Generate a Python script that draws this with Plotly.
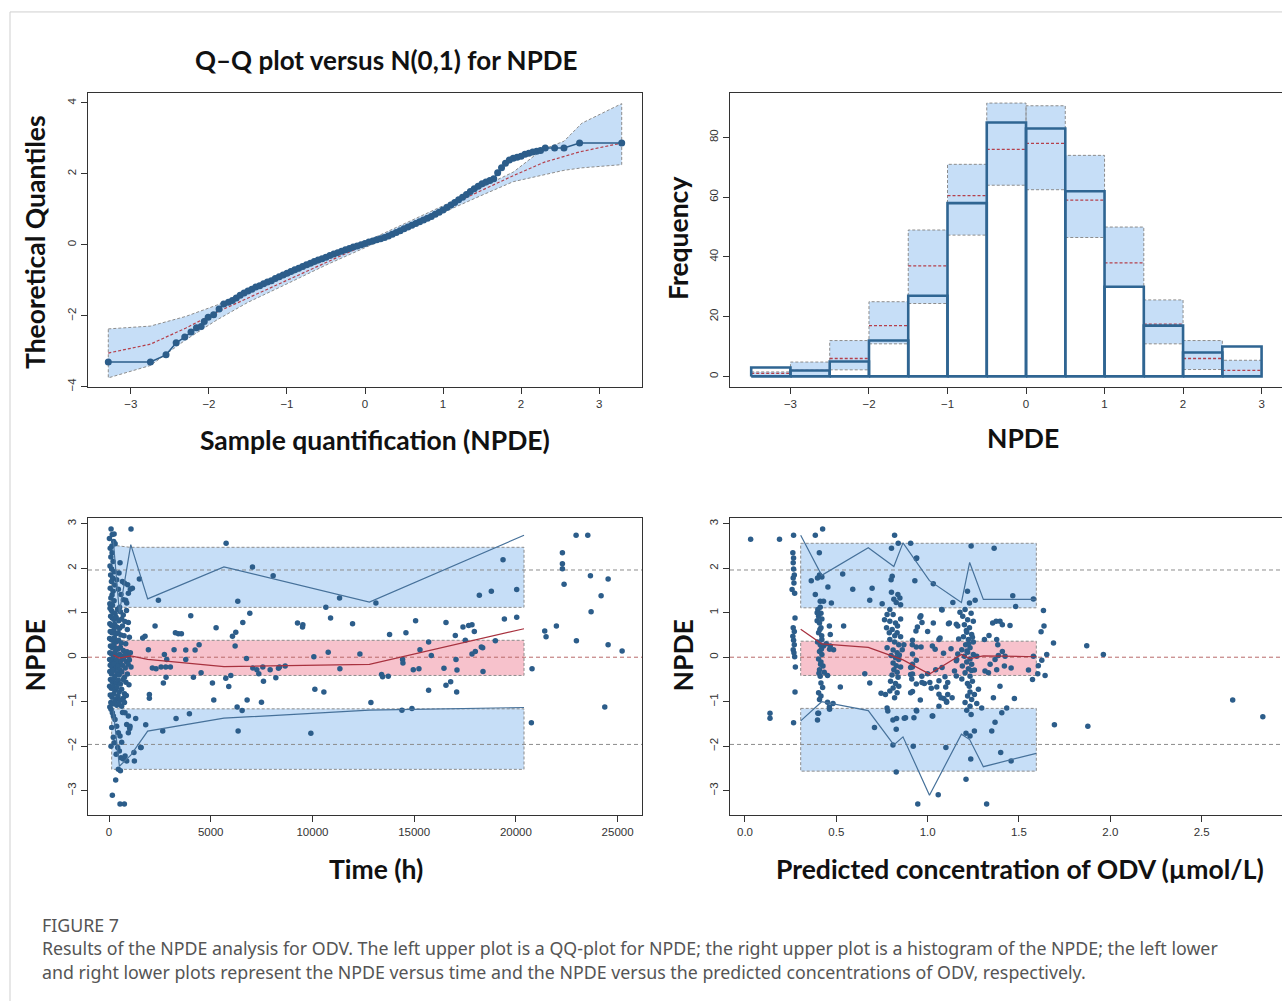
import plotly.graph_objects as go

W, H = 1282, 1005

# ====================== DATA ======================
# --- Q-Q plot ---
qq_theoretical = [-3.29, -2.75, -2.55, -2.42, -2.31, -2.23, -2.16, -2.10, -2.06, -2.01, -1.94, -1.87, -1.81, -1.75,
                  -1.7, -1.65, -1.6, -1.55, -1.5, -1.45, -1.4, -1.35, -1.3, -1.25, -1.2, -1.15, -1.1, -1.05, -1.0,
                  -0.95, -0.9, -0.85, -0.8, -0.75, -0.7, -0.65, -0.6, -0.55, -0.5, -0.45, -0.4, -0.35, -0.3, -0.25,
                  -0.2, -0.15, -0.1, -0.05, 0.0, 0.05, 0.1, 0.15, 0.2, 0.25, 0.3, 0.35, 0.4, 0.45, 0.5, 0.55, 0.6,
                  0.65, 0.7, 0.75, 0.8, 0.85, 0.9, 0.95, 1.0, 1.05, 1.1, 1.15, 1.2, 1.25, 1.3, 1.35, 1.4, 1.45, 1.5,
                  1.55, 1.6,
                  1.65, 1.7, 1.75, 1.8, 1.85, 1.9, 1.95, 2.0, 2.05, 2.1, 2.15, 2.2, 2.25, 2.31, 2.43, 2.55, 2.75, 3.29]
qq_sample = [-3.30, -3.30, -3.10, -2.76, -2.60, -2.46, -2.34, -2.30, -2.16, -2.04, -1.97, -1.81, -1.67, -1.62,
             -1.57, -1.50, -1.42, -1.36, -1.30, -1.25, -1.19, -1.15, -1.10, -1.05, -1.01, -0.95, -0.90, -0.85, -0.80,
             -0.75, -0.70, -0.66, -0.61, -0.56, -0.52, -0.47, -0.43, -0.39, -0.35, -0.30, -0.26, -0.22, -0.18, -0.14,
             -0.10, -0.06, -0.03, 0.00, 0.04, 0.08, 0.11, 0.14, 0.17, 0.21, 0.25, 0.30, 0.35, 0.40, 0.45, 0.50, 0.55,
             0.60, 0.65, 0.70, 0.75, 0.80, 0.86, 0.92, 0.98, 1.05, 1.12, 1.19, 1.27, 1.34, 1.42, 1.50, 1.58, 1.65, 1.72,
             1.77, 1.81,
             1.86, 2.03, 2.17, 2.30, 2.39, 2.44, 2.47, 2.50, 2.55, 2.58, 2.62, 2.64, 2.66, 2.73, 2.73, 2.73, 2.87, 2.87]
qq_band_x = [-3.29, -2.75, -2.3, -1.9, -1.5, -1.0, -0.5, 0.0, 0.5, 1.0, 1.5, 1.9, 2.27, 2.55, 2.78, 3.29]
qq_band_upper = [-2.37, -2.29, -2.02, -1.70, -1.35, -0.88, -0.42, 0.08, 0.58, 1.10, 1.63, 2.05, 2.68, 2.92, 3.43, 3.98]
qq_band_lower = [-3.75, -3.40, -2.68, -2.12, -1.62, -1.10, -0.57, -0.08, 0.42, 0.92, 1.40, 1.78, 1.96, 2.10, 2.17, 2.26]
qq_median_x = [-3.29, -2.75, -2.3, -1.9, 0.0, 1.9, 2.3, 2.75, 3.29]
qq_median_y = [-3.05, -2.80, -2.35, -1.90, 0.0, 1.95, 2.33, 2.62, 2.87]

# --- Histogram ---
hist_edges = [-3.5, -3.0, -2.5, -2.0, -1.5, -1.0, -0.5, 0.0, 0.5, 1.0, 1.5, 2.0, 2.5, 3.0]
hist_counts = [3, 2, 5, 12, 27, 58, 85, 83, 62, 30, 17, 8, 10]
hist_pi_lower = [0, 0, 2.2, 10.9, 24.4, 47.3, 64.0, 62.5, 46.5, 30.0, 10.9, 2.3, 0]
hist_pi_median = [1.0, 2.0, 6.0, 17.0, 37.0, 60.5, 76.0, 78.0, 59.0, 38.0, 17.5, 6.0, 2.0]
hist_pi_upper = [1.5, 4.8, 12.0, 25.0, 49.0, 71.0, 91.5, 90.6, 74.0, 50.0, 25.6, 12.0, 5.4]

# --- NPDE vs time ---
time_npde_points = [
    # dense column (early samples)
    (100, 2.88), (160, 2.76), (20, 2.67), (230, 2.60), (140, 2.50), (300, 2.55), (250, 2.77),
    (60, 2.45), (150, 2.35), (90, 2.25), (200, 2.15), (50, 2.05), (130, 1.98), (250, 1.92), (80, 1.85),
    (180, 1.78), (120, 1.70), (280, 1.62), (60, 1.55), (200, 1.48), (150, 1.40), (90, 1.33), (250, 1.27),
    (40, 1.20), (170, 1.17), (656, 1.70), (754, 1.67), (918, 1.63), (951, 1.44), (820, 1.28), (590, 1.41),
    (459, 1.53), (377, 1.74), (541, 2.12), (492, 1.89), (705, 1.29), (869, 1.22), (525, 1.12), (1050, 1.53),
    (50, 1.10), (120, 1.05), (200, 1.00), (300, 0.98), (420, 1.08), (560, 1.02), (700, 0.95), (860, 1.05),
    (80, 0.92), (160, 0.88), (250, 0.85), (350, 0.90), (480, 0.82), (620, 0.86), (780, 0.80), (950, 0.78),
    (40, 0.75), (110, 0.72), (190, 0.70), (280, 0.74), (380, 0.68), (520, 0.65), (660, 0.70), (900, 0.62),
    (60, 0.58), (140, 0.55), (230, 0.60), (330, 0.52), (450, 0.55), (580, 0.50), (740, 0.48), (1000, 0.45),
    (30, 0.42), (100, 0.40), (180, 0.38), (260, 0.44), (360, 0.35), (470, 0.38), (600, 0.32), (820, 0.30),
    (70, 0.25), (150, 0.22), (240, 0.28), (340, 0.20), (430, 0.18), (560, 0.22), (700, 0.15), (880, 0.12),
    (1050, 0.10), (40, 0.10), (120, 0.08), (210, 0.05), (300, 0.12), (400, 0.04), (520, 0.06), (650, 0.02),
    (780, 0.05), (950, 0.03),
    (30, -0.05), (110, -0.08), (190, -0.03), (280, -0.10), (370, -0.06), (460, -0.12), (580, -0.08), (720, -0.04),
    (860, -0.10), (1000, -0.06), (60, -0.18), (150, -0.22), (240, -0.15), (330, -0.25), (430, -0.20), (540, -0.28),
    (660, -0.18), (800, -0.24), (940, -0.16), (1080, -0.22), (40, -0.32), (120, -0.38), (210, -0.30), (300, -0.42),
    (400, -0.35), (500, -0.40), (630, -0.33), (760, -0.45), (900, -0.38), (70, -0.50), (160, -0.55), (250, -0.48),
    (350, -0.58), (450, -0.52), (560, -0.60), (690, -0.50), (830, -0.56), (980, -0.62), (30, -0.65), (110, -0.70),
    (200, -0.66), (290, -0.74), (390, -0.68), (500, -0.78), (620, -0.72), (760, -0.82), (60, -0.85), (150, -0.90),
    (240, -0.82), (340, -0.95), (440, -0.88), (560, -0.96), (700, -0.92), (850, -0.86), (90, -1.02), (180, -1.05),
    (280, -1.00), (380, -1.08), (490, -1.04), (620, -1.10), (760, -1.02), (40, -1.12),
    (98, -1.17), (164, -1.25), (213, -1.32), (295, -1.40), (131, -1.58), (377, -1.55), (459, -1.70), (541, -1.77),
    (623, -1.91), (426, -2.03), (508, -2.11), (590, -2.26), (869, -2.33), (705, -2.29), (459, -2.52), (560, -2.55),
    (328, -2.76), (164, -3.10), (541, -3.30), (754, -3.30), (787, -1.25), (951, -1.32), (869, -1.51), (1033, -1.55),
    (262, -1.92), (98, -2.00), (951, -1.70), (210, -1.80), (350, -2.18), (790, -2.22), (665, -1.24), (1016, -1.60),
    # sparse points
    (1082, 2.88), (1492, 1.76), (1148, 1.55), (2427, 1.28), (4018, 0.93), (2263, 0.70), (3263, 0.55), (3411, 0.53),
    (3559, 0.53), (1771, 0.47), (1656, 0.43), (3198, 0.17), (3772, 0.16), (4231, 0.16), (4428, 0.28), (1935, 0.17),
    (2722, 0.06), (2837, -0.05), (2132, -0.24), (2312, -0.26), (2558, -0.22), (2788, -0.22), (3017, -0.22),
    (3772, -0.05), (2673, -0.58), (2804, -0.45), (4149, -0.45), (4526, -0.35), (1984, -0.84), (1984, -0.92),
    (5084, -0.58), (5150, -0.96), (3296, -1.38), (3952, -1.27), (2640, -1.66), (1558, -2.03), (1804, -1.52),
    (1312, -1.38), (1246, -2.33), (1226, -2.14), (1576, -2.03),
    (5756, 2.56), (7052, 2.03), (8069, 1.83), (11332, 1.33), (13120, 1.22), (6330, 1.26), (6921, 0.99), (6576, 0.78),
    (5264, 0.66), (6232, 0.56), (6068, 0.47), (6199, 0.25), (9266, 0.77), (9528, 0.73), (9512, 0.68), (10660, 1.12),
    (10890, 0.88), (11972, 0.75), (13792, 0.51), (14596, 0.55), (15071, 0.82), (15711, 0.34), (15285, 0.17),
    (6757, -0.03), (10069, 0.01), (10775, 0.11), (12333, 0.07), (14432, -0.05), (14448, -0.13), (7068, -0.24),
    (7265, -0.28), (7363, -0.37), (7560, -0.22), (7921, -0.28), (8331, -0.25), (8380, -0.22), (8659, -0.20),
    (7593, -0.54), (8200, -0.46), (5740, -0.47), (5986, -0.41), (5887, -0.66), (11349, -0.26), (13398, -0.39),
    (13448, -0.44), (13727, -0.43), (14957, -0.28), (15235, -0.26), (10119, -0.72), (10562, -0.78), (6789, -0.96),
    (7494, -1.01), (6297, -1.12), (6543, -1.20), (12874, -1.02), (14399, -1.19), (14891, -1.15), (6347, -1.66),
    (9922, -1.71), (15711, -0.74),
    (19368, 2.19), (18204, 1.39), (18794, 1.48), (20041, 1.52), (16564, 0.78), (19434, 0.86), (20041, 0.90),
    (17023, 0.49), (17400, 0.68), (17679, 0.71), (17843, 0.73), (17958, 0.58), (17515, 0.38), (18991, 0.37),
    (15842, 0.04), (17843, 0.07), (18007, 0.13), (18302, 0.23), (18368, 0.21), (17056, -0.05), (17105, -0.29),
    (16465, -0.25), (18384, -0.32), (16564, -0.63), (16794, -0.55), (17089, -0.78), (20762, -1.47), (20795, -0.26),
    (22960, 2.74), (23534, 2.74), (22287, 2.35), (22287, 2.10), (22287, 1.99), (22369, 1.64), (23665, 1.83),
    (24534, 1.76), (24190, 1.38), (23698, 1.02), (21418, 0.59), (21484, 0.46), (21992, 0.70), (22976, 0.37),
    (24534, 0.28), (25223, 0.14), (24370, -1.12),
]
time_bin_x = [210, 510, 1070, 1900, 5650, 12800, 20400]
time_obs_upper = [2.62, 1.00, 2.53, 1.31, 2.03, 1.24, 2.74]
time_obs_median = [0.05, -0.02, 0.03, -0.05, -0.21, -0.16, 0.64]
time_obs_lower = [-1.20, -2.45, -2.20, -1.66, -1.37, -1.19, -1.13]
time_band_x = [130, 1030, 20400]
time_pi_hi_top = [2.52, 2.47, 2.47]
time_pi_hi_bot = [1.12, 1.12, 1.12]
time_pi_mid_top = [0.38, 0.38, 0.38]
time_pi_mid_bot = [-0.41, -0.41, -0.41]
time_pi_lo_top = [-1.16, -1.16, -1.16]
time_pi_lo_bot = [-2.52, -2.52, -2.52]
time_ticks = [0, 5000, 10000, 15000, 20000, 25000]
time_tick_labels = ["0", "5000", "10000", "15000", "20000", "25000"]

# --- NPDE vs predicted concentration ---
conc_npde_points = [
    (0.031, 2.65), (0.189, 2.65), (0.137, -1.26), (0.137, -1.37),
    # column ~0.27
    (0.266, 2.74), (0.262, 2.35), (0.266, 2.23), (0.264, 2.12), (0.266, 1.98), (0.270, 1.85), (0.264, 1.78),
    (0.268, 1.67), (0.258, 1.52), (0.272, 1.44), (0.274, 0.88), (0.264, 0.66), (0.270, 0.58), (0.262, 0.47),
    (0.266, 0.38), (0.270, 0.28), (0.264, 0.17), (0.268, 0.10), (0.272, 0.01), (0.276, -0.22), (0.274, -0.78),
    (0.266, -1.47),
    # column ~0.42
    (0.425, 2.88), (0.385, 2.74), (0.407, 2.35), (0.397, 1.78), (0.408, 1.85), (0.421, 1.80), (0.363, 1.72),
    (0.454, 1.58), (0.385, 1.41), (0.412, 1.26), (0.430, 1.26), (0.473, 1.22), (0.399, 1.07), (0.416, 0.99),
    (0.403, 0.92), (0.421, 0.86), (0.395, 0.82), (0.408, 0.77), (0.416, 0.66), (0.403, 0.55), (0.462, 0.70),
    (0.467, 0.51), (0.421, 0.40), (0.397, 0.34), (0.412, 0.28), (0.430, 0.25), (0.467, 0.25), (0.485, 0.17),
    (0.408, 0.13), (0.421, 0.06), (0.403, -0.04), (0.416, -0.11), (0.427, -0.20), (0.408, -0.28), (0.434, -0.34),
    (0.452, -0.41), (0.412, -0.43), (0.416, -0.58), (0.403, -0.80), (0.416, -0.87), (0.408, -0.95), (0.452, -1.01),
    (0.463, -1.17), (0.482, -1.04), (0.403, -1.26), (0.397, -1.41), (0.462, -1.12), (0.399, -1.26), (0.412, 1.12),
    (0.420, 0.48), (0.414, -0.16), (0.405, -0.36), (0.418, 0.18), (0.410, 0.62), (0.425, -0.68), (0.395, 1.00),
    (0.463, 0.18), (0.445, 0.30),
    (0.535, 1.87), (0.590, 1.53), (0.696, 1.55), (0.683, 1.28), (0.540, 0.70), (0.522, -0.67), (0.656, -0.37),
    (0.683, -0.58), (0.709, -1.58),
    # column ~0.8
    (0.819, 2.74), (0.839, 2.56), (0.907, 2.56), (0.802, 2.45), (0.806, 1.82), (0.800, 1.74), (0.802, 1.46),
    (0.837, 1.41), (0.848, 1.33), (0.828, 1.23), (0.852, 1.18), (0.751, 1.20), (0.793, 1.07), (0.778, 0.96),
    (0.811, 0.96), (0.764, 0.84), (0.793, 0.81), (0.824, 0.77), (0.852, 0.86), (0.775, 0.66), (0.806, 0.62),
    (0.833, 0.55), (0.852, 0.46), (0.793, 0.40), (0.819, 0.34), (0.842, 0.28), (0.870, 0.28), (0.778, 0.21),
    (0.811, 0.16), (0.833, 0.10), (0.861, 0.17), (0.916, 0.28), (0.800, 0.04), (0.824, -0.01), (0.842, -0.05),
    (0.811, -0.13), (0.828, -0.19), (0.852, -0.22), (0.815, -0.28), (0.833, -0.34), (0.916, -0.22), (0.907, -0.39),
    (0.797, -0.54), (0.824, -0.59), (0.842, -0.65), (0.811, -0.69), (0.793, -0.76), (0.833, -0.80), (0.769, -0.84),
    (0.819, -0.91), (0.907, -0.80), (0.745, -0.81), (0.778, -1.14), (0.782, -1.21), (0.830, -1.38), (0.879, -1.36),
    (0.925, -1.36), (0.810, -1.41), (0.810, -1.97), (0.921, -2.00), (0.828, -2.58), (0.828, -1.62), (0.930, 1.72),
    (0.820, 0.48), (0.805, -0.40), (0.838, -0.45), (0.790, 0.55), (0.845, 0.05), (0.815, 1.30), (0.835, 0.70),
    # 0.9 - 1.17
    (0.938, 2.22), (0.963, 0.93), (0.969, 0.78), (0.944, 0.68), (0.936, 0.59), (0.917, 0.38), (0.938, 0.23),
    (0.917, 0.07), (0.938, -0.07), (0.917, -0.16), (0.907, -0.23), (0.917, -0.38), (0.913, -0.49), (0.938, -0.60),
    (0.917, -0.77), (0.960, -0.96), (0.969, -0.57), (0.938, -1.19), (0.872, -1.37), (0.946, -3.30), (1.058, -3.09),
    (1.025, -1.32), (1.100, -2.03), (1.012, -0.57), (1.020, -0.70), (1.062, -1.10), (1.031, 1.65), (1.079, 1.06),
    (1.031, 0.77), (1.114, 0.75), (1.062, 0.40), (1.041, 0.18), (1.087, 0.09), (1.079, -0.23), (1.095, -0.44),
    (1.062, -0.53), (1.110, -0.57), (1.062, -0.83), (1.089, -0.93), (1.134, -0.91), (1.103, -0.99), (1.138, 1.23),
    (1.157, 0.74), (1.170, 0.41), (1.165, 0.07), (1.157, -0.08), (1.147, -0.31), (1.157, -0.42),
    (0.940, 2.23), (1.077, 1.07), (0.958, 0.90), (1.119, 0.77), (1.165, 0.70), (1.000, 0.58), (1.068, 0.43),
    (1.128, 0.19), (1.026, 0.25), (0.964, 0.23), (1.159, -0.05), (1.044, -0.28), (1.000, -0.37), (0.968, -0.43),
    (0.982, -0.59), (1.050, -0.67), (1.099, -0.67), (1.110, -0.84), (1.073, -0.91), (1.104, -1.01), (0.940, -1.21),
    (1.028, -1.32),
    # column ~1.22
    (1.238, 2.50), (1.218, 1.48), (1.260, 1.28), (1.229, 1.22), (1.205, 1.07), (1.177, 1.01), (1.238, 0.99),
    (1.192, 0.92), (1.219, 0.84), (1.250, 0.81), (1.201, 0.73), (1.229, 0.66), (1.214, 0.56), (1.241, 0.51),
    (1.196, 0.46), (1.223, 0.40), (1.250, 0.34), (1.208, 0.28), (1.232, 0.21), (1.187, 0.17), (1.219, 0.11),
    (1.250, 0.06), (1.201, 0.02), (1.232, -0.04), (1.269, 0.02), (1.214, -0.11), (1.241, -0.16), (1.190, -0.20),
    (1.223, -0.26), (1.256, -0.29), (1.205, -0.35), (1.232, -0.43), (1.187, -0.49), (1.245, -0.54), (1.218, -0.59),
    (1.232, -0.78), (1.219, -0.87), (1.241, -0.95), (1.205, -1.02), (1.232, -1.10), (1.269, -1.04), (1.214, -1.19),
    (1.238, -1.29), (1.256, -0.84), (1.278, -0.72), (1.210, -2.74), (1.210, -1.71), (1.232, -1.77), (1.256, -1.66),
    (1.236, -2.29), (1.225, 0.30), (1.212, 0.60), (1.240, -0.30), (1.228, -0.65), (1.215, 0.14), (1.245, 0.45),
    # 1.3 - 1.7
    (1.364, 2.45), (1.466, 1.38), (1.482, 1.14), (1.579, 1.31), (1.634, 1.05), (1.637, 0.70), (1.621, 0.57),
    (1.356, 0.77), (1.375, 0.81), (1.396, 0.81), (1.409, 0.73), (1.451, 0.71), (1.336, 0.49), (1.378, 0.40),
    (1.311, 0.40), (1.384, 0.28), (1.409, 0.13), (1.424, 0.02), (1.387, 0.04), (1.369, -0.05), (1.420, -0.20),
    (1.342, -0.16), (1.457, -0.24), (1.378, -0.28), (1.333, -0.35), (1.396, -0.65), (1.360, -0.91), (1.475, -0.93),
    (1.433, -1.14), (1.406, -1.25), (1.369, -1.46), (1.351, -1.66), (1.400, -2.14), (1.457, -2.33), (1.323, -3.30),
    (1.296, -1.14), (1.314, -0.31),
    (1.552, -0.29), (1.574, -0.50), (1.606, -0.19), (1.603, -0.37), (1.643, -0.41), (1.625, -0.07), (1.652, 0.06),
    (1.689, 0.32), (1.579, 0.02),
    # far right
    (1.871, 0.26), (1.962, 0.06), (1.694, -1.52), (1.877, -1.55), (2.670, -0.96), (2.835, -1.34),
]
conc_bin_x = [0.305, 0.42, 0.675, 0.815, 0.865, 1.01, 1.185, 1.23, 1.305, 1.595]
conc_obs_upper = [2.74, 1.84, 2.46, 2.04, 2.57, 1.72, 1.23, 2.13, 1.30, 1.30]
conc_obs_median = [0.63, 0.30, 0.22, 0.02, -0.06, -0.38, 0.06, -0.03, 0.03, 0.01]
conc_obs_lower = [-1.43, -1.00, -1.20, -1.97, -1.79, -3.10, -1.73, -1.85, -2.46, -2.16]
conc_band_x = [0.305, 1.595]
conc_pi_hi_top = [2.56, 2.56]
conc_pi_hi_bot = [1.11, 1.11]
conc_pi_mid_top = [0.36, 0.36]
conc_pi_mid_bot = [-0.41, -0.41]
conc_pi_lo_top = [-1.15, -1.15]
conc_pi_lo_bot = [-2.56, -2.56]
conc_ticks = [0, 0.5, 1.0, 1.5, 2.0, 2.5]
conc_tick_labels = ["0.0", "0.5", "1.0", "1.5", "2.0", "2.5"]

ref_levels = [-1.96, 0.0, 1.96]

# ====================== STYLE ======================
PT = "#2c5d8a"
BAND = "#c6def7"
PINK = "#f7c2cc"
GRAYD = "#8c8c8c"
REDL = "#a8323f"
BLUEL = "#46719a"
TICKF = dict(family="Liberation Sans, Arial, sans-serif", size=11.5, color="#333")
TITLE_FAMILY = "Lato, Open Sans, sans-serif"
AXT = 26.5


def px(xp):
    return xp / W


def py(yp):
    return 1 - yp / H


fig = go.Figure()


def poly(xs, top, bot, color, axes):
    fig.add_trace(go.Scatter(
        x=list(xs) + list(xs)[::-1] + [xs[0]], y=list(top) + list(bot)[::-1] + [top[0]],
        mode="lines", fill="toself", fillcolor=color,
        line=dict(color=GRAYD, width=1, dash="3px,2px"),
        xaxis=axes[0], yaxis=axes[1], hoverinfo="skip", showlegend=False))


# ---- Panel 1: QQ ----
poly(qq_band_x, qq_band_upper, qq_band_lower, BAND, ("x", "y"))
fig.add_trace(go.Scatter(x=qq_median_x, y=qq_median_y, mode="lines",
                         line=dict(color="#b5404c", width=1.2, dash="3px,2px"),
                         xaxis="x", yaxis="y", showlegend=False))
fig.add_trace(go.Scatter(x=qq_theoretical, y=qq_sample, mode="lines+markers",
                         line=dict(color=PT, width=1.5), marker=dict(color=PT, size=7),
                         xaxis="x", yaxis="y", showlegend=False))

# ---- Panel 2: histogram ----
bx, by = [], []
for i in range(len(hist_counts)):
    l, r = hist_edges[i], hist_edges[i + 1]
    bx += [l, r, r, l, l, None]
    by += [hist_pi_lower[i], hist_pi_lower[i], hist_pi_upper[i], hist_pi_upper[i], hist_pi_lower[i], None]
fig.add_trace(go.Scatter(x=bx, y=by, mode="lines", fill="toself", fillcolor=BAND,
                         line=dict(color=GRAYD, width=1, dash="3px,2px"),
                         xaxis="x2", yaxis="y2", showlegend=False))
mx, my = [], []
for i in range(len(hist_counts)):
    mx += [hist_edges[i], hist_edges[i + 1], None]
    my += [hist_pi_median[i], hist_pi_median[i], None]
fig.add_trace(go.Scatter(x=mx, y=my, mode="lines", line=dict(color="#b5404c", width=1.3, dash="3px,2px"),
                         xaxis="x2", yaxis="y2", showlegend=False))
hx, hy = [], []
for i in range(len(hist_counts)):
    l, r = hist_edges[i], hist_edges[i + 1]
    hx += [l, l, r, r, l, None]
    hy += [0, hist_counts[i], hist_counts[i], 0, 0, None]
fig.add_trace(go.Scatter(x=hx, y=hy, mode="lines", line=dict(color="#2f6592", width=2.6),
                         xaxis="x2", yaxis="y2", showlegend=False))


# ---- Panels 3 & 4 ----
def npde_panel(points, bx_, hi_t, hi_b, mid_t, mid_b, lo_t, lo_b, binx, up, med, lo, axes, xr):
    poly(bx_, hi_t, hi_b, BAND, axes)
    poly(bx_, mid_t, mid_b, PINK, axes)
    poly(bx_, lo_t, lo_b, BAND, axes)
    for lev in ref_levels:
        fig.add_trace(go.Scatter(x=xr, y=[lev, lev], mode="lines",
                                 line=dict(color="#b86a6a" if lev == 0 else GRAYD, width=1, dash="4px,3px"),
                                 xaxis=axes[0], yaxis=axes[1], showlegend=False))
    fig.add_trace(go.Scatter(x=[p[0] for p in points], y=[p[1] for p in points], mode="markers",
                             marker=dict(color=PT, size=5.5), xaxis=axes[0], yaxis=axes[1], showlegend=False))
    fig.add_trace(go.Scatter(x=binx, y=up, mode="lines", line=dict(color=BLUEL, width=1.2),
                             xaxis=axes[0], yaxis=axes[1], showlegend=False))
    fig.add_trace(go.Scatter(x=binx, y=lo, mode="lines", line=dict(color=BLUEL, width=1.2),
                             xaxis=axes[0], yaxis=axes[1], showlegend=False))
    fig.add_trace(go.Scatter(x=binx, y=med, mode="lines", line=dict(color=REDL, width=1.2),
                             xaxis=axes[0], yaxis=axes[1], showlegend=False))


X3R = [-1033, 26200]
X4R = [-0.082, 2.94]
npde_panel(time_npde_points, time_band_x, time_pi_hi_top, time_pi_hi_bot, time_pi_mid_top, time_pi_mid_bot,
           time_pi_lo_top, time_pi_lo_bot, time_bin_x, time_obs_upper, time_obs_median, time_obs_lower,
           ("x3", "y3"), X3R)
npde_panel(conc_npde_points, conc_band_x, conc_pi_hi_top, conc_pi_hi_bot, conc_pi_mid_top, conc_pi_mid_bot,
           conc_pi_lo_top, conc_pi_lo_bot, conc_bin_x, conc_obs_upper, conc_obs_median, conc_obs_lower,
           ("x4", "y4"), X4R)


# ====================== AXES ======================
def ax(domain, rng, tickvals, ticktext=None, anchor=None, mirror=True, y=False):
    d = dict(domain=domain, range=rng, tickvals=tickvals, showgrid=False, zeroline=False,
             showline=True, linecolor="#333", linewidth=1, mirror=mirror,
             ticks="outside", ticklen=6, tickcolor="#333", tickfont=TICKF, anchor=anchor)
    if ticktext is not None:
        d["ticktext"] = ticktext
    if y:
        d["tickangle"] = -90
    return d


L1 = [px(88), px(642)]
L2 = [px(730), 1.0]
TOPD = [py(389), py(93)]
BOTD = [py(818), py(520)]

fig.update_layout(
    width=W, height=H, margin=dict(l=0, r=0, t=0, b=0),
    paper_bgcolor="white", plot_bgcolor="white", showlegend=False,
    xaxis=ax(L1, [-3.55, 3.55], [-3, -2, -1, 0, 1, 2, 3], anchor="y"),
    yaxis=ax(TOPD, [-4.02, 4.29], [-4, -2, 0, 2, 4], anchor="x", y=True),
    xaxis2=ax(L2, [-3.77, 3.26], [-3, -2, -1, 0, 1, 2, 3], anchor="y2"),
    yaxis2=ax(TOPD, [-3.7, 95.0], [0, 20, 40, 60, 80], anchor="x2", mirror=False, y=True),
    xaxis3=ax(L1, X3R, time_ticks, time_tick_labels, anchor="y3"),
    yaxis3=ax(BOTD, [-3.54, 3.13], [-3, -2, -1, 0, 1, 2, 3], anchor="x3", y=True),
    xaxis4=ax(L2, X4R, conc_ticks, conc_tick_labels, anchor="y4"),
    yaxis4=ax(BOTD, [-3.54, 3.13], [-3, -2, -1, 0, 1, 2, 3], anchor="x4", mirror=False, y=True),
)

# frame lines
fig.add_shape(type="line", xref="paper", yref="paper", x0=px(10), x1=1, y0=py(12), y1=py(12),
              line=dict(color="#cfcfcf", width=1))
fig.add_shape(type="line", xref="paper", yref="paper", x0=px(10), x1=px(10), y0=0, y1=py(12),
              line=dict(color="#cfcfcf", width=1))


def ann(text, x, y, size=AXT, angle=0, xanchor="center", color="#111", family=None, bold=True):
    fig.add_annotation(text=(f"<b>{text}</b>" if bold else text), x=px(x), y=py(y), xref="paper", yref="paper",
                       showarrow=False, textangle=angle, xanchor=xanchor, yanchor="middle",
                       font=dict(family=family or TITLE_FAMILY, size=size, color=color))


ann("Q–Q plot versus N(0,1) for NPDE", 386, 60, size=26)
ann("Sample quantification (NPDE)", 375, 442)
ann("Theoretical Quantiles", 35, 243, angle=-90)
ann("NPDE", 1023, 440)
ann("Frequency", 678, 240, angle=-90)
ann("NPDE", 35, 658, angle=-90)
ann("Time (h)", 376, 872)
ann("NPDE", 683, 658, angle=-90)
ann("Predicted concentration of ODV (µmol/L)", 1020, 872)

CAPF = "Noto Sans, Open Sans, sans-serif"
CAPS = 17.8
ann("FIGURE 7", 40, 929, size=CAPS, xanchor="left", color="#555", family=CAPF, bold=False)
ann("Results of the NPDE analysis for ODV. The left upper plot is a QQ-plot for NPDE; the right upper plot is a "
    "histogram of the NPDE; the left lower", 40, 952, size=CAPS, xanchor="left", color="#555", family=CAPF, bold=False)
ann("and right lower plots represent the NPDE versus time and the NPDE versus the predicted concentrations of ODV, "
    "respectively.", 40, 976, size=CAPS, xanchor="left", color="#555", family=CAPF, bold=False)

fig.write_html("out.html", config={"displayModeBar": False},
               post_script="document.body.style.margin='0px';document.body.style.overflow='hidden';")
